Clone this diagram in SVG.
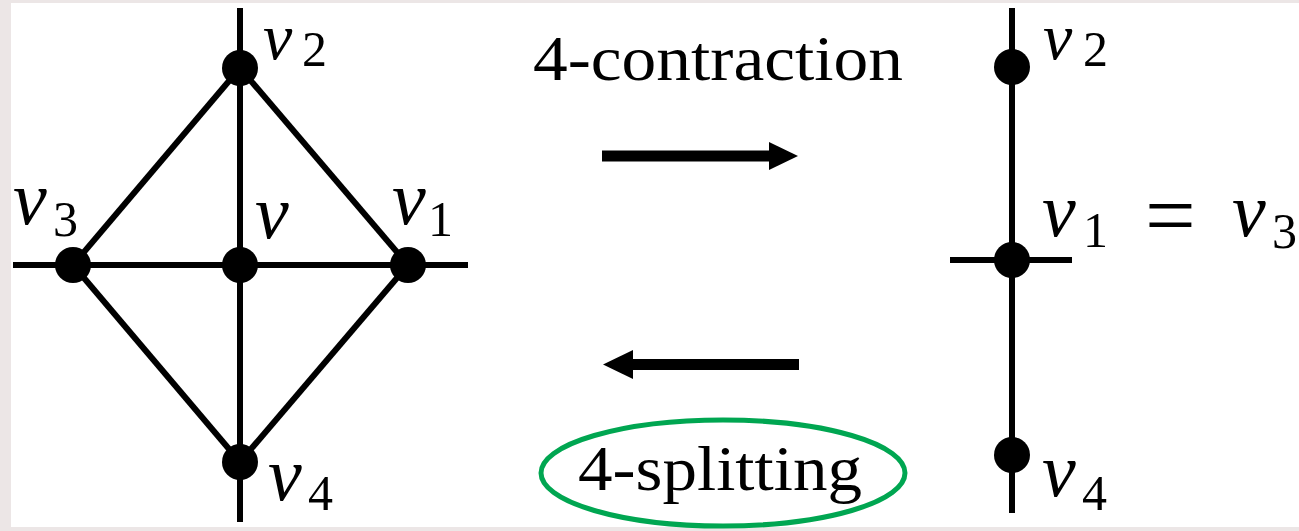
<svg xmlns="http://www.w3.org/2000/svg" width="1299" height="531" viewBox="0 0 1299 531">
<style>
.edge{stroke:#000;stroke-width:6;fill:none;stroke-linecap:butt}
.node{fill:#000}
.mi{font-family:"Liberation Serif",serif;font-style:italic;font-size:76px;fill:#000}
.mi-top{font-family:"Liberation Serif",serif;font-style:italic;font-size:66px;fill:#000}
.sub{font-family:"Liberation Serif",serif;font-size:50px;fill:#000}
.op{font-family:"Liberation Serif",serif;font-size:90px;fill:#000}
.lbl{font-family:"Liberation Serif",serif;font-size:64px;fill:#000}
.shaft{stroke:#000;stroke-width:11}
</style>
<rect x="0" y="0" width="1299" height="531" fill="#ece6e6"/>
<rect x="11" y="3" width="1288" height="524" fill="#ffffff"/>

<g id="connectors">
  <line class="edge" x1="240" y1="8" x2="240" y2="522"/>
  <line class="edge" x1="13" y1="265" x2="468" y2="265"/>
  <line class="edge" x1="240" y1="68" x2="73" y2="265"/>
  <line class="edge" x1="240" y1="68" x2="408" y2="265"/>
  <line class="edge" x1="73" y1="265" x2="240" y2="462"/>
  <line class="edge" x1="408" y1="265" x2="240" y2="462"/>
  <line class="edge" x1="1012" y1="8" x2="1012" y2="513"/>
  <line class="edge" x1="950" y1="260" x2="1072" y2="260"/>
  <g id="arrow-contraction">
    <line class="shaft" x1="602" y1="156" x2="772" y2="156"/>
    <polygon points="769,142 798,156 769,170" fill="#000"/>
  </g>
  <g id="arrow-splitting">
    <line class="shaft" x1="630" y1="364.5" x2="799" y2="364.5"/>
    <polygon points="633,350 603,364.5 633,379" fill="#000"/>
  </g>
</g>

<g id="node-v2-left">
  <circle class="node" cx="240" cy="68" r="18"/>
  <text class="mi-top" x="263" y="59">v</text><text class="sub" x="302" y="66">2</text>
</g>
<g id="node-v3-left">
  <circle class="node" cx="73" cy="265" r="18"/>
  <text class="mi" x="13" y="224">v</text><text class="sub" x="53" y="236">3</text>
</g>
<g id="node-v">
  <circle class="node" cx="240" cy="265" r="18"/>
  <text class="mi" x="255" y="238">v</text>
</g>
<g id="node-v1-left">
  <circle class="node" cx="408" cy="265" r="18"/>
  <text class="mi" x="392" y="224">v</text><text class="sub" x="428" y="236">1</text>
</g>
<g id="node-v4-left">
  <circle class="node" cx="240" cy="462" r="18"/>
  <text class="mi" x="268" y="500">v</text><text class="sub" x="308" y="510">4</text>
</g>

<g id="label-contraction">
  <text class="lbl" x="533" y="80" textLength="370" lengthAdjust="spacingAndGlyphs">4-contraction</text>
</g>
<g id="label-splitting">
  <ellipse cx="723" cy="473" rx="182" ry="53" fill="none" stroke="#00a651" stroke-width="5"/>
  <text class="lbl" x="578" y="490" textLength="284" lengthAdjust="spacingAndGlyphs">4-splitting</text>
</g>

<g id="node-v2-right">
  <circle class="node" cx="1012" cy="67" r="18"/>
  <text class="mi-top" x="1043" y="59">v</text><text class="sub" x="1083" y="66">2</text>
</g>
<g id="node-v1v3-right">
  <circle class="node" cx="1012" cy="260" r="18"/>
  <text class="mi" x="1042" y="236">v</text><text class="sub" x="1083" y="247">1</text>
  <text class="op" x="1145" y="246">=</text>
  <text class="mi" x="1232" y="236">v</text><text class="sub" x="1272" y="248">3</text>
</g>
<g id="node-v4-right">
  <circle class="node" cx="1012" cy="455" r="18"/>
  <text class="mi" x="1042" y="496">v</text><text class="sub" x="1082" y="510">4</text>
</g>
</svg>
